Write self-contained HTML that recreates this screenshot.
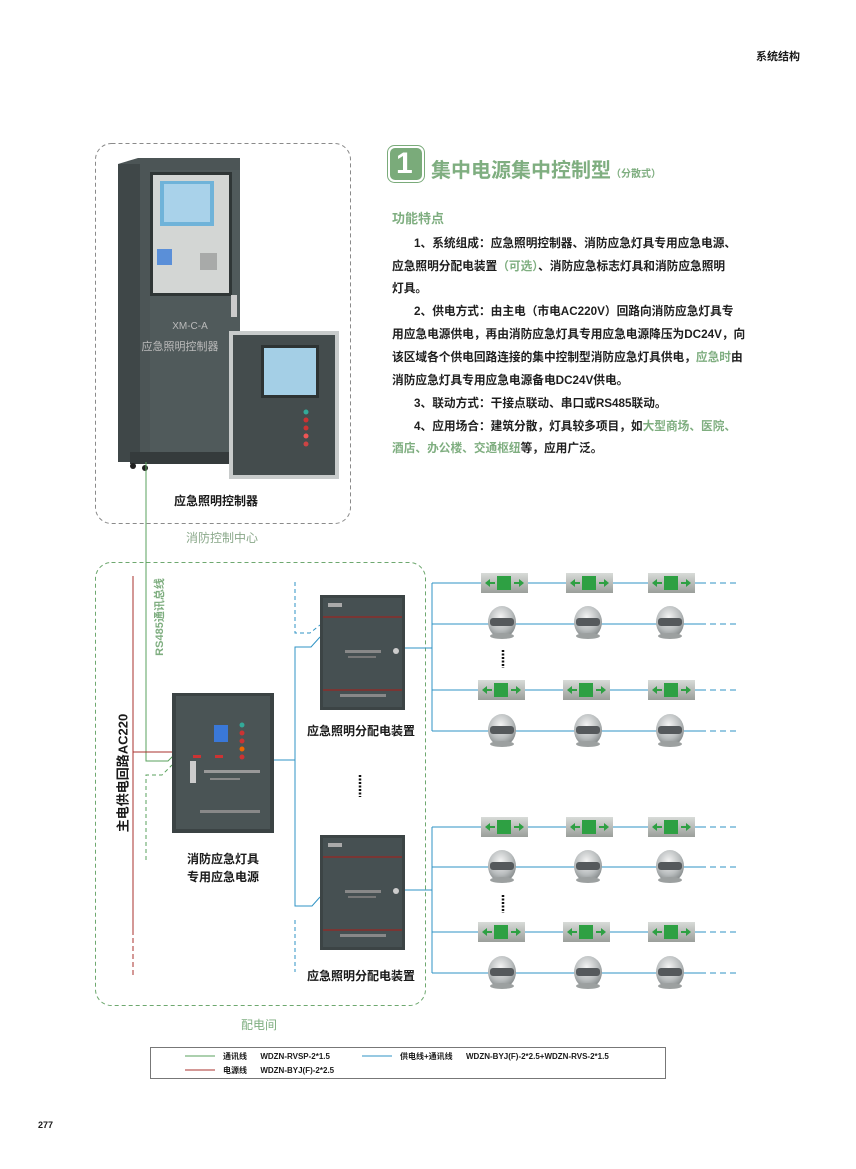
<!DOCTYPE html>
<html><head><meta charset="utf-8"><style>
body{margin:0;background:#fff}
#p{position:relative;width:856px;height:1169px;overflow:hidden;background:#fff;font-family:"Liberation Sans","Noto Sans CJK SC",sans-serif}
.t{position:absolute;white-space:nowrap}
.b{font-weight:bold;color:#1a1a1a}
.g{color:#7fae80}
.para div{position:absolute;left:392px;white-space:nowrap;font-size:11.7px;font-weight:bold;color:#1e1e1e}
.para div.i{padding-left:22px}
</style></head><body><div id="p">
<svg width="856" height="1169" style="position:absolute;left:0;top:0">
<defs>
<linearGradient id="ex" x1="0" y1="0" x2="0" y2="1"><stop offset="0" stop-color="#d8dbd8"/><stop offset="1" stop-color="#9a9e9a"/></linearGradient>
<radialGradient id="dm" cx="0.45" cy="0.35" r="0.7"><stop offset="0" stop-color="#f4f4f4"/><stop offset="0.6" stop-color="#b8bcbd"/><stop offset="1" stop-color="#7c8182"/></radialGradient>
<g id="exit"><rect x="-23" y="-10" width="47" height="20" fill="url(#ex)"/><rect x="-7" y="-7" width="14" height="14" fill="#2ea043"/><polygon points="-19,0 -14,-4 -14,4" fill="#2ea043"/><rect x="-14" y="-1" width="5" height="2" fill="#2ea043"/><polygon points="20,0 15,-4 15,4" fill="#2ea043"/><rect x="10" y="-1" width="5" height="2" fill="#2ea043"/></g>
<g id="dome"><ellipse cx="0" cy="2" rx="14" ry="16" fill="url(#dm)"/><rect x="-12" y="-2" width="24" height="8" rx="3" fill="#55595c"/><ellipse cx="0" cy="16" rx="12" ry="3" fill="#9ca0a0"/></g>
<g id="dbox"><rect x="0" y="0" width="85" height="115" fill="#3c4445"/><rect x="3" y="3" width="79" height="109" fill="#465052"/><line x1="3" y1="22" x2="82" y2="22" stroke="#8a2e2a" stroke-width="1.5"/><line x1="3" y1="95" x2="82" y2="95" stroke="#8a2e2a" stroke-width="1.5"/><rect x="8" y="8" width="14" height="4" fill="#aaa"/><rect x="25" y="55" width="36" height="3" fill="#888"/><rect x="28" y="61" width="28" height="2" fill="#777"/><rect x="20" y="99" width="46" height="3" fill="#888"/><circle cx="76" cy="56" r="3" fill="#ccc"/></g>
</defs>
<rect x="95.5" y="143.5" width="255" height="380" rx="16" fill="none" stroke="#8a8a8a" stroke-dasharray="4,3"/>
<rect x="95.5" y="562.5" width="330" height="443" rx="16" fill="none" stroke="#6ea86f" stroke-dasharray="4,3"/>
<polygon points="118,164 138,158 240,158 240,462 118,462" fill="#4c5556"/>
<rect x="118" y="164" width="22" height="298" fill="#3f4748"/>
<rect x="150" y="170" width="90" height="292" fill="#505a5b"/>
<rect x="150" y="172" width="82" height="124" fill="#2f3636"/>
<rect x="153" y="175" width="76" height="118" fill="#d3d6d4"/>
<rect x="160" y="181" width="54" height="45" fill="#6fb3d9"/>
<rect x="164" y="184" width="46" height="38" fill="#a9d2ea"/>
<rect x="157" y="249" width="15" height="16" fill="#5a8fd8"/>
<rect x="200" y="253" width="17" height="17" fill="#a8aaa9"/>
<rect x="231" y="295" width="6" height="22" fill="#ccc"/>
<text x="190" y="329" font-size="10" fill="#bbb" text-anchor="middle" font-family="Liberation Sans">XM-C-A</text>
<text x="180" y="350" font-size="11" fill="#bbb" text-anchor="middle" font-family="Noto Sans CJK SC">应急照明控制器</text>
<rect x="130" y="452" width="110" height="12" fill="#353b3c"/>
<circle cx="133" cy="466" r="3" fill="#222"/><circle cx="145" cy="468" r="3" fill="#222"/>
<rect x="229" y="331" width="110" height="148" fill="#c8cbcb"/>
<rect x="233" y="335" width="102" height="140" fill="#444c4d"/>
<rect x="261" y="345" width="58" height="53" fill="#2d3333"/>
<rect x="264" y="348" width="52" height="47" fill="#a4cfe6"/>
<circle cx="306" cy="412" r="2.5" fill="#3a9"/><circle cx="306" cy="420" r="2.5" fill="#c33"/><circle cx="306" cy="428" r="2.5" fill="#c33"/><circle cx="306" cy="436" r="2.5" fill="#e55"/><circle cx="306" cy="444" r="2.5" fill="#c44"/>
<polyline points="146,462 146,761 168,761 174,755" fill="none" stroke="#5aa25c" stroke-width="1"/>
<polyline points="146,860 146,775 162,775 172,765" fill="none" stroke="#5aa25c" stroke-width="1" stroke-dasharray="4,3"/>
<line x1="133" y1="576" x2="133" y2="930" stroke="#a8302c"/>
<line x1="133" y1="930" x2="133" y2="975" stroke="#a8302c" stroke-dasharray="5,3"/>
<line x1="133" y1="752" x2="173" y2="752" stroke="#a8302c"/>
<rect x="172" y="693" width="102" height="140" fill="#3b4344"/>
<rect x="176" y="696" width="94" height="133" fill="#4a5455"/>
<rect x="214" y="725" width="14" height="17" fill="#3a78d8"/>
<circle cx="242" cy="725" r="2.5" fill="#3a9"/><circle cx="242" cy="733" r="2.5" fill="#c33"/><circle cx="242" cy="741" r="2.5" fill="#c33"/><circle cx="242" cy="749" r="2.5" fill="#e60"/><circle cx="242" cy="757" r="2.5" fill="#c33"/>
<rect x="193" y="755" width="8" height="3" fill="#c33"/><rect x="215" y="755" width="8" height="3" fill="#c33"/>
<rect x="190" y="761" width="6" height="22" fill="#ccc"/>
<rect x="204" y="770" width="56" height="3" fill="#999"/><rect x="210" y="778" width="30" height="2" fill="#888"/><rect x="200" y="810" width="60" height="3" fill="#888"/>
<line x1="274" y1="760" x2="295" y2="760" stroke="#2f93c4"/>
<polyline points="320,637 311,647 295,647 295,906 312,906 320,897" fill="none" stroke="#2f93c4"/>
<polyline points="295,582 295,633 310,633 320,625" fill="none" stroke="#2f93c4" stroke-dasharray="4,3"/>
<line x1="295" y1="920" x2="295" y2="972" stroke="#2f93c4" stroke-dasharray="4,3"/>
<use href="#dbox" x="320" y="595"/>
<use href="#dbox" x="320" y="835"/>
<line x1="360" y1="775" x2="360" y2="797" stroke="#111" stroke-width="2.5" stroke-dasharray="2,1.5"/>
<g stroke="#2f93c4" fill="none">
<line x1="405" y1="648" x2="432" y2="648"/><line x1="432" y1="583" x2="432" y2="731"/>
<line x1="432" y1="583" x2="700" y2="583"/><line x1="432" y1="624" x2="700" y2="624"/><line x1="432" y1="690" x2="700" y2="690"/><line x1="432" y1="731" x2="700" y2="731"/>
<line x1="405" y1="890" x2="432" y2="890"/><line x1="432" y1="827" x2="432" y2="973"/>
<line x1="432" y1="827" x2="700" y2="827"/><line x1="432" y1="867" x2="700" y2="867"/><line x1="432" y1="932" x2="700" y2="932"/><line x1="432" y1="973" x2="700" y2="973"/>
<g stroke-dasharray="6,4"><line x1="700" y1="583" x2="740" y2="583"/><line x1="700" y1="624" x2="740" y2="624"/><line x1="700" y1="690" x2="740" y2="690"/><line x1="700" y1="731" x2="740" y2="731"/><line x1="700" y1="827" x2="740" y2="827"/><line x1="700" y1="867" x2="740" y2="867"/><line x1="700" y1="932" x2="740" y2="932"/><line x1="700" y1="973" x2="740" y2="973"/></g>
</g>
<use href="#exit" x="504" y="583"/><use href="#exit" x="589" y="583"/><use href="#exit" x="671" y="583"/>
<use href="#dome" x="502" y="620"/><use href="#dome" x="588" y="620"/><use href="#dome" x="670" y="620"/>
<use href="#exit" x="501" y="690"/><use href="#exit" x="586" y="690"/><use href="#exit" x="671" y="690"/>
<use href="#dome" x="502" y="728"/><use href="#dome" x="588" y="728"/><use href="#dome" x="670" y="728"/>
<use href="#exit" x="504" y="827"/><use href="#exit" x="589" y="827"/><use href="#exit" x="671" y="827"/>
<use href="#dome" x="502" y="864"/><use href="#dome" x="588" y="864"/><use href="#dome" x="670" y="864"/>
<use href="#exit" x="501" y="932"/><use href="#exit" x="586" y="932"/><use href="#exit" x="671" y="932"/>
<use href="#dome" x="502" y="970"/><use href="#dome" x="588" y="970"/><use href="#dome" x="670" y="970"/>
<line x1="503" y1="650" x2="503" y2="668" stroke="#111" stroke-width="2.5" stroke-dasharray="2,1.5"/>
<line x1="503" y1="895" x2="503" y2="913" stroke="#111" stroke-width="2.5" stroke-dasharray="2,1.5"/>
<rect x="387.5" y="145.5" width="37" height="37" rx="7" fill="#fff" stroke="#7aab7a"/>
<rect x="390" y="148" width="32" height="32" rx="5" fill="#7aab7a"/>
<rect x="150.5" y="1047.5" width="515" height="31" fill="none" stroke="#777"/>
<line x1="185" y1="1056" x2="215" y2="1056" stroke="#5aa25c"/>
<line x1="185" y1="1070" x2="215" y2="1070" stroke="#a8302c"/>
<line x1="362" y1="1056" x2="392" y2="1056" stroke="#2f93c4"/>
</svg>
<div class="t" style="left:396px;top:146px;font-size:30px;font-weight:bold;color:#fff;line-height:36px">1</div>
<div class="t g" style="left:431px;top:158px;font-size:20px;font-weight:bold;line-height:26px">集中电源集中控制型<span style="font-size:10px">（分散式）</span></div>
<div class="t b" style="left:756px;top:48px;font-size:11px">系统结构</div>
<div class="t g" style="left:392px;top:208px;font-size:13px;font-weight:bold">功能特点</div>
<div class="para">
<div class="i" style="top:234px">1、系统组成：应急照明控制器、消防应急灯具专用应急电源、</div>
<div style="top:257px">应急照明分配电装置<span class="g">（可选）</span>、消防应急标志灯具和消防应急照明</div>
<div style="top:279px">灯具。</div>
<div class="i" style="top:302px">2、供电方式：由主电（市电AC220V）回路向消防应急灯具专</div>
<div style="top:325px">用应急电源供电，再由消防应急灯具专用应急电源降压为DC24V，向</div>
<div style="top:348px">该区域各个供电回路连接的集中控制型消防应急灯具供电，<span class="g">应急时</span>由</div>
<div style="top:371px">消防应急灯具专用应急电源备电DC24V供电。</div>
<div class="i" style="top:394px">3、联动方式：干接点联动、串口或RS485联动。</div>
<div class="i" style="top:417px">4、应用场合：建筑分散，灯具较多项目，如<span class="g">大型商场、医院、</span></div>
<div style="top:439px"><span class="g">酒店、办公楼、交通枢纽</span>等，应用广泛。</div>
</div>
<div class="t b" style="left:174px;top:492px;font-size:12px">应急照明控制器</div>
<div class="t g" style="left:186px;top:529px;font-size:12px;color:#8aa88a">消防控制中心</div>
<div class="t g" style="top:617px;font-size:11px;font-weight:bold;transform:translate(-50%,-50%) rotate(-90deg);left:159px">RS485通讯总线</div>
<div class="t b" style="left:122px;top:773px;font-size:13px;transform:translate(-50%,-50%) rotate(-90deg)">主电供电回路AC220</div>
<div class="t b" style="left:187px;top:850px;font-size:12px">消防应急灯具</div>
<div class="t b" style="left:187px;top:868px;font-size:12px">专用应急电源</div>
<div class="t b" style="left:307px;top:722px;font-size:12px">应急照明分配电装置</div>
<div class="t b" style="left:307px;top:967px;font-size:12px">应急照明分配电装置</div>
<div class="t g" style="left:241px;top:1016px;font-size:12px">配电间</div>
<div class="t b" style="left:223px;top:1051px;font-size:8px">通讯线&nbsp;&nbsp;&nbsp;&nbsp;&nbsp;&nbsp;WDZN-RVSP-2*1.5</div>
<div class="t b" style="left:223px;top:1065px;font-size:8px">电源线&nbsp;&nbsp;&nbsp;&nbsp;&nbsp;&nbsp;WDZN-BYJ(F)-2*2.5</div>
<div class="t b" style="left:400px;top:1051px;font-size:8px">供电线+通讯线&nbsp;&nbsp;&nbsp;&nbsp;&nbsp;&nbsp;WDZN-BYJ(F)-2*2.5+WDZN-RVS-2*1.5</div>
<div class="t b" style="left:38px;top:1120px;font-size:9px">277</div>
</div></body></html>
